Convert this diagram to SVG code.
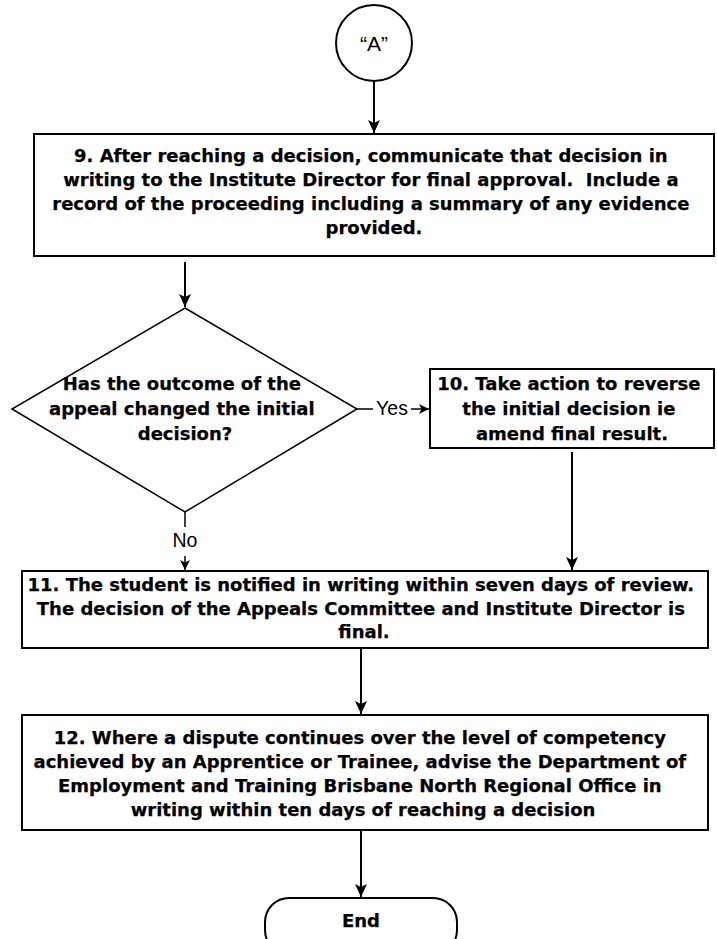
<svg xmlns="http://www.w3.org/2000/svg" width="717" height="939" viewBox="0 0 717 939">
  <style>
    .shape { fill: #ffffff; stroke: #000000; stroke-width: 2; }
    .thin { fill: #ffffff; stroke: #000000; stroke-width: 1.5; }
    .label { font-family: "DejaVu Sans", "Verdana", sans-serif; font-weight: bold; font-size: 18px; fill: #000000; stroke: #000000; stroke-width: 0.25; text-anchor: middle; }
    .plain { font-family: "Liberation Sans", Arial, sans-serif; font-size: 19.5px; fill: #000000; text-anchor: middle; }
    .edge { fill: none; stroke: #000000; stroke-width: 2; }
    .edge-thin { fill: none; stroke: #000000; stroke-width: 1.5; }
  </style>
  <defs>
    <marker id="arrow" markerUnits="userSpaceOnUse" markerWidth="14" markerHeight="12" refX="13" refY="6" orient="auto">
      <path d="M0,0 L13,6 L0,12 L3,6 Z" fill="#000000"/>
    </marker>
    <marker id="arrow-small" markerUnits="userSpaceOnUse" markerWidth="11" markerHeight="10" refX="10" refY="5" orient="auto">
      <path d="M0,0 L10,5 L0,10 L2.5,5 Z" fill="#000000"/>
    </marker>
  </defs>

  <rect width="717" height="939" fill="#ffffff"/>

  <!-- connectors -->
  <g id="connectors">
    <line class="edge" x1="374" y1="81" x2="374" y2="133" marker-end="url(#arrow)"/>
    <line class="edge" x1="185" y1="262" x2="185" y2="307" marker-end="url(#arrow)"/>
    <!-- Yes branch -->
    <line class="edge-thin" x1="357" y1="409" x2="373" y2="409"/>
    <line class="edge-thin" x1="411" y1="409" x2="429" y2="409" marker-end="url(#arrow-small)"/>
    <text class="plain" x="392" y="415">Yes</text>
    <!-- No branch -->
    <line class="edge-thin" x1="185" y1="512" x2="185" y2="527"/>
    <line class="edge-thin" x1="185" y1="556" x2="185" y2="570" marker-end="url(#arrow-small)"/>
    <text class="plain" x="185" y="547">No</text>
    <!-- step 10 down to step 11 -->
    <line class="edge" x1="572" y1="452" x2="572" y2="570" marker-end="url(#arrow)"/>
    <line class="edge" x1="361" y1="648" x2="361" y2="714" marker-end="url(#arrow)"/>
    <line class="edge" x1="361" y1="830" x2="361" y2="897" marker-end="url(#arrow)"/>
  </g>

  <g id="connector-a">
    <circle class="shape" cx="374" cy="43" r="38"/>
    <text x="374" y="51" font-family="Liberation Sans, Arial, sans-serif" font-size="21" text-anchor="middle">“A”</text>
  </g>

  <g id="step-9">
    <rect class="shape" x="34" y="134" width="680" height="122"/>
    <text class="label">
      <tspan x="374" y="162">9. After reaching a decision, communicate that decision in</tspan>
      <tspan x="374" y="186">writing to the Institute Director for final approval.&#160; Include a</tspan>
      <tspan x="374" y="210">record of the proceeding including a summary of any evidence</tspan>
      <tspan x="374" y="234">provided.</tspan>
    </text>
  </g>

  <g id="decision">
    <polygon class="thin" points="185,308 357,409 185,512 12,409"/>
    <text class="label">
      <tspan x="185" y="390">Has the outcome of the</tspan>
      <tspan x="185" y="415">appeal changed the initial</tspan>
      <tspan x="185" y="440">decision?</tspan>
    </text>
  </g>

  <g id="step-10">
    <rect class="shape" x="430" y="369" width="284" height="79"/>
    <text class="label">
      <tspan x="572" y="390">10. Take action to reverse</tspan>
      <tspan x="572" y="415">the initial decision ie</tspan>
      <tspan x="572" y="440">amend final result.</tspan>
    </text>
  </g>

  <g id="step-11">
    <rect class="shape" x="22" y="571" width="686" height="77"/>
    <text class="label">
      <tspan x="364" y="591">11. The student is notified in writing within seven days of review.</tspan>
      <tspan x="364" y="615">The decision of the Appeals Committee and Institute Director is</tspan>
      <tspan x="364" y="638">final.</tspan>
    </text>
  </g>

  <g id="step-12">
    <rect class="shape" x="22" y="715" width="686" height="115"/>
    <text class="label">
      <tspan x="363" y="744">12. Where a dispute continues over the level of competency</tspan>
      <tspan x="363" y="768">achieved by an Apprentice or Trainee, advise the Department of</tspan>
      <tspan x="363" y="792">Employment and Training Brisbane North Regional Office in</tspan>
      <tspan x="363" y="816">writing within ten days of reaching a decision</tspan>
    </text>
  </g>

  <g id="end">
    <rect class="shape" x="265" y="898" width="192" height="56" rx="24" ry="24"/>
    <text class="label" x="361" y="927">End</text>
  </g>
</svg>
